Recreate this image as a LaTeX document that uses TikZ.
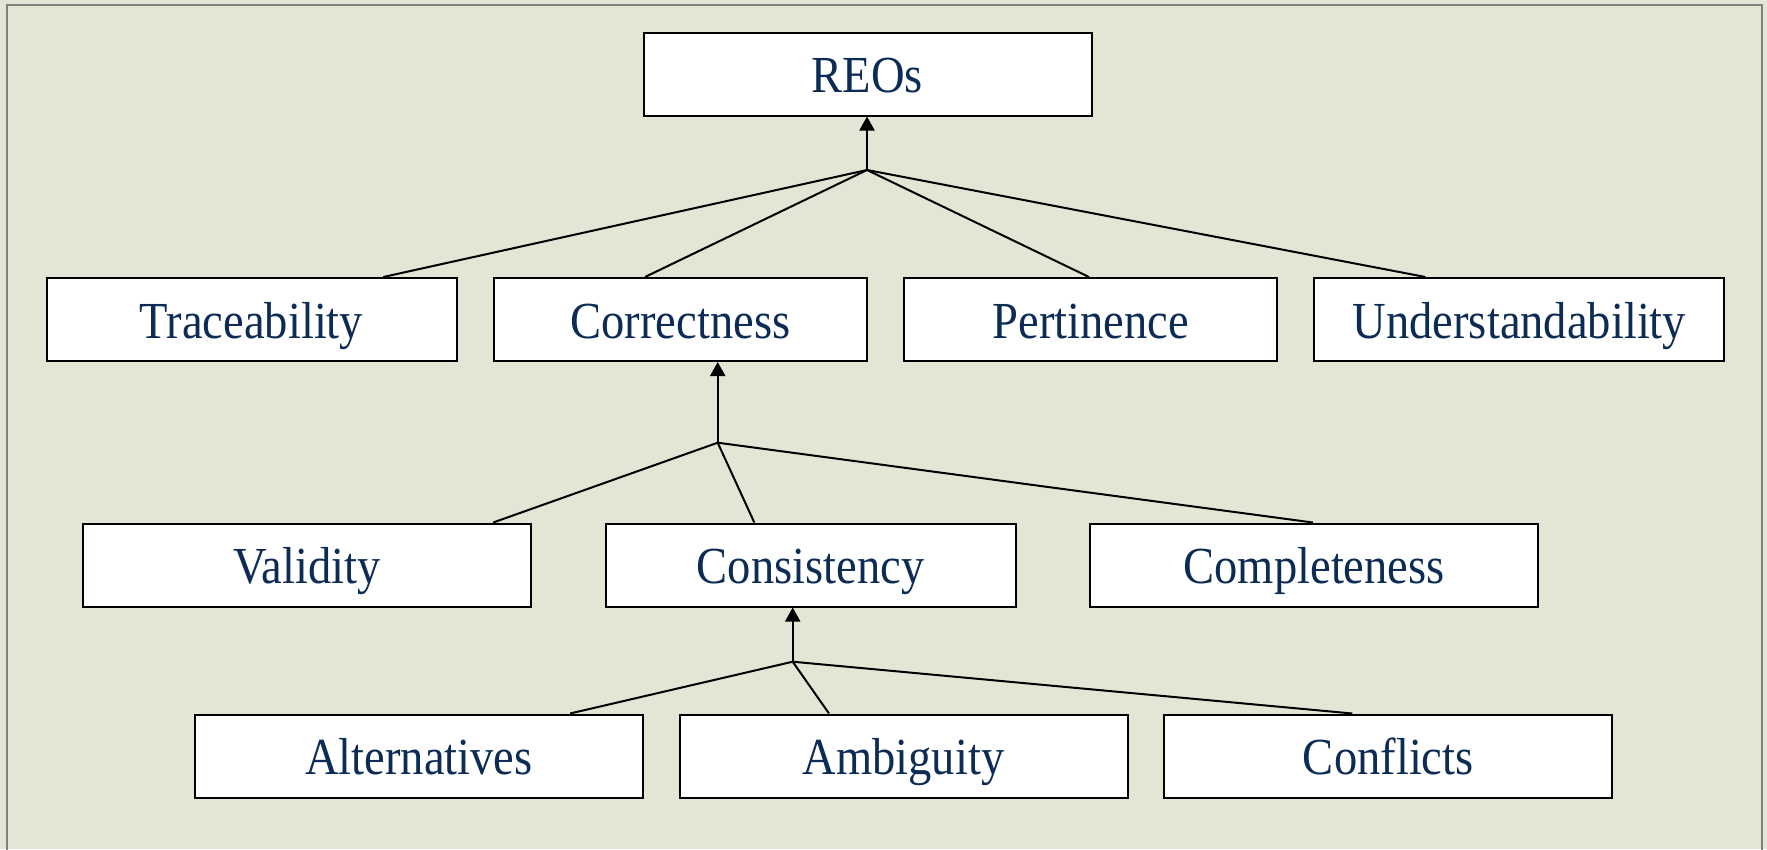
\documentclass[tikz,border=0pt]{standalone}
\usepackage{fontspec}
\setmainfont[FakeStretch=0.895]{Liberation Serif}
\usetikzlibrary{arrows.meta}
\definecolor{bgc}{HTML}{E5E5D6}
\definecolor{framec}{HTML}{808080}
\definecolor{txtc}{HTML}{0C2C56}
\tikzset{
  box/.style={draw=black, line width=2pt, fill=white, rectangle, inner sep=0pt,
    minimum height=83pt, text height=60pt, text depth=23pt, align=center,
    text=txtc, font=\fontsize{52}{60}\selectfont},
  wbox/.style={box, minimum width=448pt, text width=440pt},
  mbox/.style={box, minimum width=410pt, text width=400pt},
  nbox/.style={box, minimum width=373pt, text width=365pt},
  link/.style={line width=2pt, draw=black},
  up/.style={link, -{Triangle[width=15pt,length=14pt]}}
}
\begin{document}
\begin{tikzpicture}[x=1pt,y=-1pt]
\fill[bgc] (0,0) rectangle (1767,849);
\useasboundingbox (0,0) rectangle (1767,849);
\draw[framec, line width=2pt] (7,5) rectangle (1762,900);

\node[wbox] (reos) at (867.5,74) {REOs};

\node[mbox] (trace) at (251.5,319.5) {Traceability};
\node[nbox] (corr) at (680.5,319.5) {Correctness};
\node[nbox] (pert) at (1090.8,319.5) {Pertinence};
\node[mbox] (under) at (1519.4,319.5) {Understandability};

\node[wbox] (valid) at (307.2,565) {Validity};
\node[mbox] (cons) at (810.5,565) {Consistency};
\node[wbox] (compl) at (1314.2,565) {Completeness};

\node[wbox] (alt) at (419,756) {Alternatives};
\node[wbox] (amb) at (903.5,756) {Ambiguity};
\node[wbox] (confl) at (1388.3,756) {Conflicts};

\coordinate (j1) at (867,170);
\coordinate (j2) at (717.7,442.7);
\coordinate (j3) at (792.7,661.7);

\draw[up] (j1) -- (j1 |- reos.south);
\draw[link] (j1) -- ([xshift=131.8pt]trace.north);
\draw[link] (j1) -- ([xshift=-35.5pt]corr.north);
\draw[link] (j1) -- ([xshift=-1.8pt]pert.north);
\draw[link] (j1) -- ([xshift=-94pt]under.north);

\draw[up] (j2) -- (j2 |- corr.south);
\draw[link] (j2) -- ([xshift=186pt]valid.north);
\draw[link] (j2) -- ([xshift=-56.2pt]cons.north);
\draw[link] (j2) -- ([xshift=-1.4pt]compl.north);

\draw[up] (j3) -- (j3 |- cons.south);
\draw[link] (j3) -- ([xshift=151pt]alt.north);
\draw[link] (j3) -- ([xshift=-74.5pt]amb.north);
\draw[link] (j3) -- ([xshift=-36pt]confl.north);
\end{tikzpicture}
\end{document}
